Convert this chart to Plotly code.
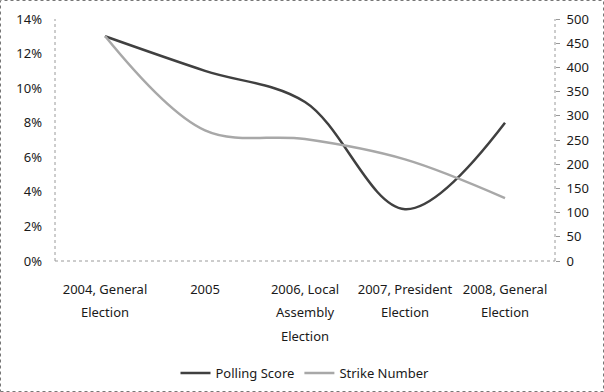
import plotly.graph_objects as go

categories = ["2004, General Election", "2005", "2006, Local Assembly Election",
              "2007, President Election", "2008, General Election"]
tick_labels = ["2004, General<br>Election", "2005", "2006, Local<br>Assembly<br>Election",
               "2007, President<br>Election", "2008, General<br>Election"]
polling_score = [0.13, 0.11, 0.092, 0.03, 0.08]
strike_number = [465, 270, 252, 210, 130]

W, H = 604, 392
ml, mr, mt, mb = 55, 49, 19, 131
pw, ph = W - ml - mr, H - mt - mb

fig = go.Figure()
fig.add_trace(go.Scatter(x=categories, y=polling_score, name="Polling Score", mode="lines",
                         line=dict(color="#404040", width=2.5, shape="spline", smoothing=1.0)))
fig.add_trace(go.Scatter(x=categories, y=strike_number, name="Strike Number", mode="lines",
                         yaxis="y2",
                         line=dict(color="#a8a8a8", width=2.5, shape="spline", smoothing=1.0)))

font = dict(family="Noto Sans, DejaVu Sans, sans-serif", size=13, color="#1a1a1a")
axis_grey = "#9a9a9a"

def dotted(x0, y0, x1, y1):
    return dict(type="line", xref="paper", yref="paper", x0=x0, y0=y0, x1=x1, y1=y1,
                line=dict(color=axis_grey, width=1, dash="dot"))

# wider line spacing for the category labels: large base font, 13px visible text
styled_ticks = ["<br>".join("<span style='font-size:13px'>%s</span>" % part
                            for part in t.split("<br>")) for t in tick_labels]

fig.update_layout(
    width=W, height=H,
    margin=dict(l=ml, r=mr, t=mt, b=mb, autoexpand=False),
    paper_bgcolor="white", plot_bgcolor="white",
    font=font,
    showlegend=True,
    legend=dict(orientation="h", x=0.5, xanchor="center", y=-0.463, yanchor="middle",
                font=dict(size=13), tracegroupgap=0),
    xaxis=dict(type="category", range=[-0.5, 4.5], showgrid=False, showline=False,
               ticks="", tickvals=categories, ticktext=styled_ticks,
               tickfont=dict(size=18), ticklabelstandoff=14, fixedrange=True,
               automargin=False),
    yaxis=dict(range=[0, 0.14], dtick=0.02, tickformat=".0%", showgrid=False,
               showline=False, ticks="", tickfont=dict(size=13), ticklabelstandoff=12,
               zeroline=False, automargin=False),
    yaxis2=dict(range=[0, 500], dtick=50, overlaying="y", side="right", showgrid=False,
                showline=False, ticks="outside", ticklen=4, tickcolor=axis_grey,
                tickfont=dict(size=13), ticklabelstandoff=4, zeroline=False,
                automargin=False),
    shapes=[
        dotted(0, 0, 0, 1),
        dotted(0, 0, 1, 0),
        dotted(1, 0, 1, 1),
        dict(type="rect", xref="paper", yref="paper",
             x0=-(ml - 0.5) / pw, x1=1 + (mr - 0.5) / pw,
             y0=-(mb - 0.5) / ph, y1=1 + (mt - 0.5) / ph,
             line=dict(color="#777", width=1, dash="dot")),
    ],
)

fig.write_html("out.html", config={"displayModeBar": False},
               post_script="document.body.style.margin='0';")
